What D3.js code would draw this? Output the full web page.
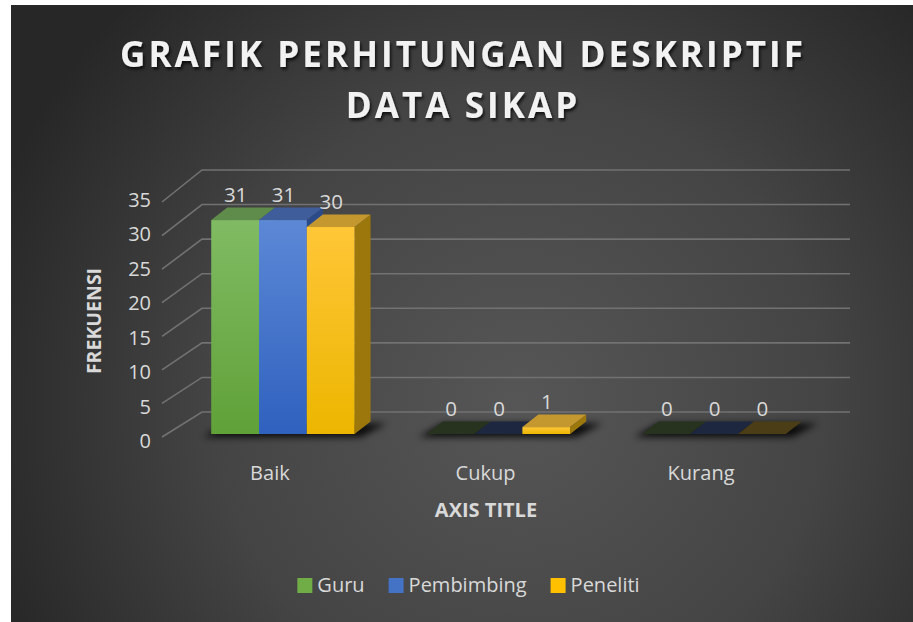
<!DOCTYPE html>
<html><head><meta charset="utf-8">
<script src="https://cdn.jsdelivr.net/npm/d3@7"></script>
<style>body{margin:0;background:#fff;} svg{display:block;font-family:'Open Sans',sans-serif;}</style>
</head><body><svg id="c" width="913" height="622"></svg>
<script>
const categories = ["Baik", "Cukup", "Kurang"];
const seriesNames = ["Guru", "Pembimbing", "Peneliti"];
const guru = [31, 0, 0];
const pembimbing = [31, 0, 0];
const peneliti = [30, 1, 0];
const yTicks = [0, 5, 10, 15, 20, 25, 30, 35];
const titleLines = ["GRAFIK PERHITUNGAN DESKRIPTIF", "DATA SIKAP"];
const yAxisTitle = "FREKUENSI";
const xAxisTitle = "AXIS TITLE";

const seriesValues = [guru, pembimbing, peneliti];
const palette = {
  Guru:       {ft: "#80bb63", fb: "#60a138", top: "#5f8c4a", side: "#4a7a30", zero: "#27331f", leg: "#70ad47"},
  Pembimbing: {ft: "#5c88d6", fb: "#2f61be", top: "#3f5d9b", side: "#2a4a8a", zero: "#1d2840", leg: "#4472c4"},
  Peneliti:   {ft: "#ffc637", fb: "#ecb600", top: "#c4982e", side: "#9c770c", zero: "#4b3d16", leg: "#ffc000"}
};

const svg = d3.select("#c");
const defs = svg.append("defs");
const W = 913, H = 622;

// background
const bg = defs.append("radialGradient").attr("id", "bg").attr("gradientUnits", "userSpaceOnUse")
  .attr("cx", 520).attr("cy", 400).attr("r", 560);
bg.append("stop").attr("offset", "0").attr("stop-color", "#565656");
bg.append("stop").attr("offset", "0.55").attr("stop-color", "#444444");
bg.append("stop").attr("offset", "1").attr("stop-color", "#272727");
svg.append("rect").attr("x", 11).attr("y", 5).attr("width", W - 11).attr("height", H - 5).attr("fill", "url(#bg)");

const blur = defs.append("filter").attr("id", "blur").attr("x", "-20%").attr("y", "-100%").attr("width", "140%").attr("height", "300%");
blur.append("feGaussianBlur").attr("stdDeviation", 3.5);
const tsh = defs.append("filter").attr("id", "tsh").attr("x", "-5%").attr("y", "-20%").attr("width", "110%").attr("height", "150%");
tsh.append("feDropShadow").attr("dx", 1.5).attr("dy", 2.5).attr("stdDeviation", 1.5).attr("flood-color", "#000").attr("flood-opacity", 0.75);

// scales
const x = d3.scaleBand().domain(categories).range([139, 858]).padding(0.335);
const xs = d3.scaleBand().domain(seriesNames).range([0, x.bandwidth()]);
const yBar = d3.scaleLinear().domain([0, 35]).range([434, 192.5]);
const yFront = d3.scaleLinear().domain([0, 35]).range([437, 202]);
const yBack = d3.scaleLinear().domain([0, 35]).range([412, 170]);
const yLab = d3.scaleLinear().domain([0, 35]).range([441, 200]);
const wallFrontX = 162, wallBackX = 202, gridRight = 850;
const DX = 16, DY = -12.5;

// gridlines
const grid = svg.append("g").attr("stroke", "#727272").attr("stroke-width", 1.6).attr("fill", "none");
yTicks.forEach(t => {
  grid.append("path").attr("d", `M${wallFrontX},${yFront(t)}L${wallBackX},${yBack(t)}L${gridRight},${yBack(t)}`);
});

// tick labels
svg.append("g").selectAll("text").data(yTicks).join("text")
  .attr("x", 151).attr("y", d => yLab(d)).attr("dy", "0.35em")
  .attr("text-anchor", "end").attr("font-size", 20).attr("fill", "#d9d9d9").text(d => d);

// shadows
const sh = svg.append("g").attr("filter", "url(#blur)").attr("fill", "#000").attr("opacity", 0.85);
categories.forEach(c => {
  const x0 = x(c), x1 = x(c) + x.bandwidth(), y0 = yBar(0);
  sh.append("path").attr("d", `M${x0 - 8},${y0 + 3}L${x1 + 6},${y0 + 3}L${x1 + DX + 16},${y0 + DY + 2}L${x0 + DX},${y0 + DY + 2}Z`);
});

// gradients for fronts
seriesNames.forEach((s, i) => {
  const g = defs.append("linearGradient").attr("id", "g" + i).attr("x1", 0).attr("y1", 0).attr("x2", 0).attr("y2", 1);
  g.append("stop").attr("offset", 0).attr("stop-color", palette[s].ft);
  g.append("stop").attr("offset", 1).attr("stop-color", palette[s].fb);
});

// bars
const bars = svg.append("g");
categories.forEach((c, ci) => {
  seriesNames.forEach((s, si) => {
    const v = seriesValues[si][ci];
    const bx = x(c) + xs(s), w = xs.bandwidth();
    const yt = yBar(v), y0 = yBar(0);
    const p = palette[s];
    if (v === 0) {
      bars.append("path").attr("d", `M${bx},${y0}L${bx + DX},${y0 + DY}L${bx + w + DX},${y0 + DY}L${bx + w},${y0}Z`).attr("fill", p.zero);
    } else {
      bars.append("path").attr("d", `M${bx + w},${yt}L${bx + w + DX},${yt + DY}L${bx + w + DX},${y0 + DY}L${bx + w},${y0}Z`).attr("fill", p.side);
      bars.append("path").attr("d", `M${bx},${yt}L${bx + DX},${yt + DY}L${bx + w + DX},${yt + DY}L${bx + w},${yt}Z`).attr("fill", p.top);
      bars.append("rect").attr("x", bx).attr("y", yt).attr("width", w).attr("height", y0 - yt).attr("fill", `url(#g${si})`);
    }
  });
});

// data labels
const dl = svg.append("g").attr("font-size", 20.5).attr("fill", "#d9d9d9").attr("text-anchor", "middle");
categories.forEach((c, ci) => {
  seriesNames.forEach((s, si) => {
    const v = seriesValues[si][ci];
    dl.append("text").attr("x", x(c) + xs(s) + xs.bandwidth() / 2 + 0.5).attr("y", yBar(v) + DY - 6).text(v);
  });
});

// category labels
svg.append("g").selectAll("text").data(categories).join("text")
  .attr("x", d => x(d) + x.bandwidth() / 2 - 13).attr("y", 480)
  .attr("text-anchor", "middle").attr("font-size", 20).attr("fill", "#d9d9d9").text(d => d);

// axis titles
svg.append("text").attr("x", 486).attr("y", 517).attr("text-anchor", "middle")
  .attr("font-size", 20).attr("font-weight", "bold").attr("fill", "#d9d9d9").text(xAxisTitle);
svg.append("text").attr("transform", "translate(101,321) rotate(-90)").attr("text-anchor", "middle")
  .attr("font-size", 19.5).attr("font-weight", "bold").attr("fill", "#d9d9d9").text(yAxisTitle);

// title
const titleG = svg.append("g").attr("filter", "url(#tsh)");
const tl1 = titleG.append("text").attr("x", 461.5).attr("y", 67).attr("text-anchor", "middle")
  .attr("font-size", 35).attr("font-weight", "bold").attr("fill", "#f2f2f2").text(titleLines[0]);
const nat = tl1.node().getComputedTextLength();
const ls = (683 - nat) / (titleLines[0].length - 1);
tl1.attr("letter-spacing", ls).attr("x", 461.5 + ls / 2);
titleG.append("text").attr("x", 461.5 + ls / 2).attr("y", 118).attr("text-anchor", "middle")
  .attr("font-size", 35).attr("font-weight", "bold").attr("fill", "#f2f2f2").attr("letter-spacing", ls).text(titleLines[1]);

// legend
const leg = svg.append("g");
const items = seriesNames.map(s => {
  const g = leg.append("g");
  g.append("rect").attr("x", 0).attr("y", -14).attr("width", 15).attr("height", 15).attr("fill", palette[s].leg);
  const t = g.append("text").attr("x", 20).attr("y", 0).attr("font-size", 20).attr("fill", "#d9d9d9").text(s);
  return {g, w: 20 + t.node().getComputedTextLength()};
});
const gap = 24;
const total = d3.sum(items, d => d.w) + gap * (items.length - 1);
let cx = 468.5 - total / 2;
items.forEach(it => { it.g.attr("transform", `translate(${cx},592)`); cx += it.w + gap; });
</script></body></html>
